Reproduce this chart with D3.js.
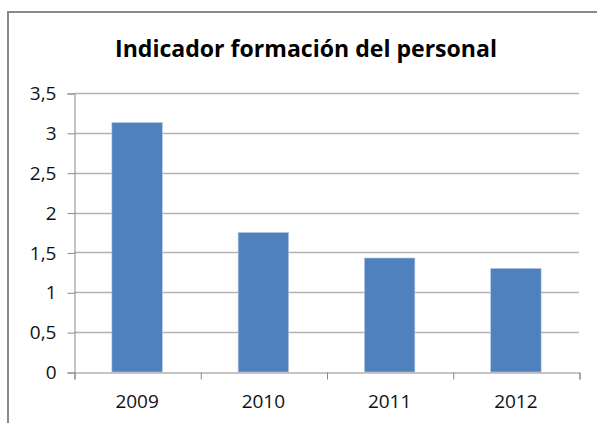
<!DOCTYPE html>
<html>
<head>
<meta charset="utf-8">
<script src="https://cdn.jsdelivr.net/npm/d3@7"></script>
<style>
  body { margin: 0; background: #fff; }
</style>
</head>
<body>
<div class="chart"></div>
<script>
const years = ['2009', '2010', '2011', '2012'];
const values = [3.13, 1.75, 1.43, 1.30];
const yTicks = [0, 0.5, 1, 1.5, 2, 2.5, 3, 3.5];
const title = 'Indicador formación del personal';

const width = 597, height = 423;
const margin = {top: 93, right: 18, bottom: 51, left: 74};
const font = '"Open Sans", sans-serif';

const svg = d3.select('.chart')
    .append('svg')
    .attr('width', width)
    .attr('height', height)
    .style('font-family', font);

// chart frame (right and bottom edges fall outside the picture)
svg.append('rect')
    .attr('x', 8).attr('y', 12)
    .attr('width', 700).attr('height', 500)
    .attr('fill', 'none')
    .attr('stroke', '#8a8a8a')
    .attr('stroke-width', 2);

svg.append('text')
    .attr('x', 306).attr('y', 57)
    .attr('text-anchor', 'middle')
    .attr('font-size', 23)
    .attr('font-weight', 'bold')
    .attr('fill', '#000')
    .attr('textLength', 382)
    .attr('lengthAdjust', 'spacingAndGlyphs')
    .text(title);

const x = d3.scaleBand()
    .domain(years)
    .range([margin.left, width - margin.right])
    .paddingInner(0.6)
    .paddingOuter(0.3);

// category boundaries for x ticks
const xEdge = d3.scaleLinear()
    .domain([0, years.length])
    .range([margin.left, width - margin.right]);

const y = d3.scaleLinear()
    .domain([0, 3.5])
    .range([height - margin.bottom, margin.top]);

const es = d3.formatLocale({decimal: ',', thousands: '.', grouping: [3], currency: ['', '€']});
const fmt = es.format('~g');

// gridlines
svg.append('g')
    .selectAll('line')
    .data(yTicks.filter(d => d > 0))
    .join('line')
    .attr('x1', margin.left).attr('x2', width - margin.right)
    .attr('y1', d => Math.round(y(d)) + 0.5).attr('y2', d => Math.round(y(d)) + 0.5)
    .attr('stroke', '#b3b3b3')
    .attr('stroke-width', 1.5);

// bars
svg.append('g')
    .selectAll('rect')
    .data(values)
    .join('rect')
    .attr('x', (d, i) => x(years[i]))
    .attr('y', d => y(d))
    .attr('width', x.bandwidth())
    .attr('height', d => y(0) - y(d))
    .attr('fill', '#4f81bd')
    .attr('stroke', '#b8cce4')
    .attr('stroke-width', 0.6);

// y axis
const yAxis = svg.append('g')
    .attr('transform', `translate(${margin.left + 0.5}, 0.5)`)
    .call(d3.axisLeft(y).tickValues(yTicks).tickFormat(fmt).tickSize(7).tickPadding(11));
yAxis.select('.domain').attr('stroke', '#8a8a8a');
yAxis.selectAll('.tick line').attr('stroke', '#8a8a8a');
yAxis.selectAll('.tick text')
    .attr('font-size', 19)
    .attr('font-family', font)
    .attr('fill', '#111');

// x axis
const xAxis = svg.append('g')
    .attr('transform', `translate(0.5, ${Math.round(y(0)) + 0.5})`)
    .call(d3.axisBottom(xEdge).ticks(4).tickSize(7).tickFormat(''));
xAxis.select('.domain').attr('stroke', '#8a8a8a');
xAxis.selectAll('.tick line').attr('stroke', '#8a8a8a');

svg.append('g')
    .selectAll('text')
    .data(years)
    .join('text')
    .attr('x', d => x(d) + x.bandwidth() / 2)
    .attr('y', 408)
    .attr('text-anchor', 'middle')
    .attr('font-size', 19)
    .attr('fill', '#111')
    .text(d => d);
</script>
</body>
</html>
